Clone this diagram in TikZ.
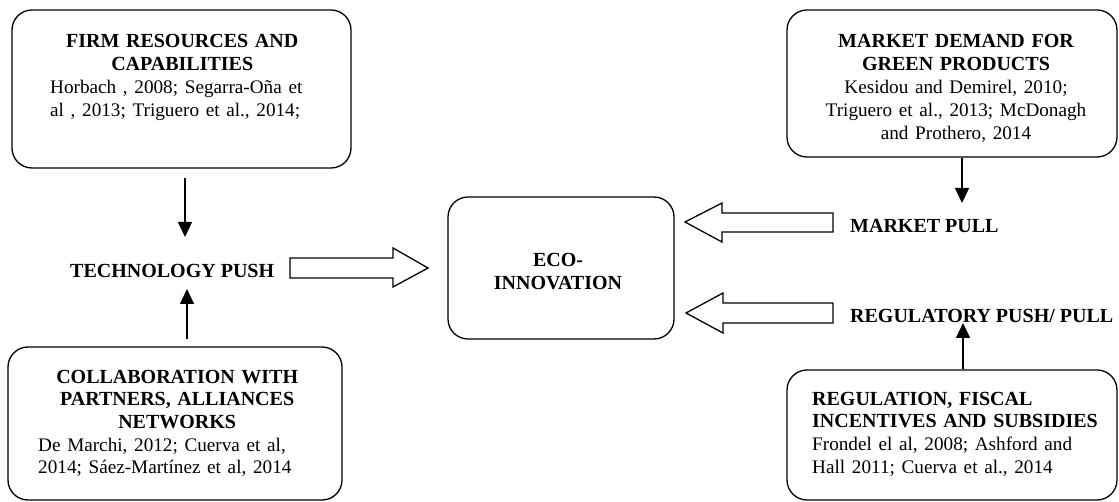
\documentclass[tikz,border=0pt]{standalone}
\usepackage{fontspec}
\setmainfont{Liberation Serif}
\usetikzlibrary{arrows.meta,calc}
\setlength{\parindent}{0pt}
\newcommand{\citesz}{\fontsize{19.2}{23}\selectfont}
\begin{document}
\begin{tikzpicture}[x=1pt,y=-1pt,
  box/.style={draw,line width=1.3pt,rounded corners=20pt,inner sep=0pt},
  txt/.style={inner sep=0pt,font={\fontsize{20}{23}\selectfont}},
  conn/.style={line width=1.3pt,-{Triangle[width=14pt,length=15pt]}},
  blk/.style={draw,line width=1.3pt,fill=white,line join=miter}
]
\useasboundingbox (0,0) rectangle (1119,502);
\fill[white] (0,0) rectangle (1119,502);

% boxes
\node[box,minimum width=339pt,minimum height=158pt] (firm) at (181.5,89) {};
\node[box,minimum width=330pt,minimum height=147pt] (mkt) at (952,83.5) {};
\node[box,minimum width=334pt,minimum height=153pt] (coll) at (175,423.5) {};
\node[box,minimum width=330pt,minimum height=130pt] (reg) at (952,435) {};
\node[box,minimum width=226pt,minimum height=142pt] (eco) at (561,268) {};

% box texts
\node[txt,anchor=north west,text width=264pt] (firmt) at (50,33.6)
  {{\centering\bfseries FIRM RESOURCES AND\par CAPABILITIES\par}\raggedright\citesz
   Horbach , 2008; Segarra-Oña et\par al , 2013; Triguero et al., 2014;\par};
\node[txt,anchor=north,text width=320pt] (mktt) at (956,33.6)
  {\centering{\bfseries MARKET DEMAND FOR\par GREEN PRODUCTS\par}\citesz
   Kesidou and Demirel, 2010;\par Triguero et al., 2013; McDonagh\par and Prothero, 2014\par};
\node[txt,anchor=north west,text width=278pt,font={\fontsize{20}{22.7}\selectfont}] (collt) at (38,369.6)
  {{\centering\bfseries COLLABORATION WITH\par PARTNERS, ALLIANCES\par NETWORKS\par}\raggedright\fontsize{19.2}{22.7}\selectfont
   De Marchi, 2012; Cuerva et al,\par 2014; Sáez-Martínez et al, 2014\par};
\node[txt,anchor=north west,text width=300pt,font={\fontsize{20}{22.7}\selectfont}] (regt) at (812,391.6)
  {\raggedright{\bfseries REGULATION, FISCAL\par INCENTIVES AND SUBSIDIES\par}\fontsize{19.2}{22.7}\selectfont
   Frondel el al, 2008; Ashford and\par Hall 2011; Cuerva et al., 2014\par};
\node[txt,anchor=north,text width=200pt] (ecot) at (558,252.6)
  {\centering\bfseries ECO-\par INNOVATION\par};

% driver labels
\node[txt,anchor=base west,font={\fontsize{20}{23}\selectfont\bfseries}] (tp) at (70,278) {TECHNOLOGY PUSH};
\node[txt,anchor=base west,font={\fontsize{20}{23}\selectfont\bfseries}] (mp) at (850,233) {MARKET PULL};
\node[txt,anchor=base west,font={\fontsize{20}{23}\selectfont\bfseries}] (rp) at (850,323) {REGULATORY PUSH/ PULL};

% thin arrows
\coordinate (tpTop) at (185,237);
\coordinate (tpBot) at (187,289);
\coordinate (mpTop) at (962,203);
\coordinate (rpBot) at (963,323);
\draw[conn] ($(firm.south -| tpTop)+(0,9)$) -- (tpTop);
\draw[conn] ($(coll.north -| tpBot)+(0,-7)$) -- (tpBot);
\draw[conn] (mkt.south -| mpTop) -- (mpTop);
\draw[conn] (reg.north -| rpBot) -- (rpBot);

% block arrows
\draw[blk] (290,258) -- (393,258) -- (393,248) -- (428,268) -- (393,287) -- (393,278) -- (290,278) -- cycle;
\draw[blk] (833,213) -- (722,213) -- (722,203) -- (685,222) -- (722,242) -- (722,232) -- (833,232) -- cycle;
\draw[blk] (833,303) -- (723,303) -- (723,293) -- (686,313) -- (723,333) -- (723,323) -- (833,323) -- cycle;
\end{tikzpicture}
\end{document}
